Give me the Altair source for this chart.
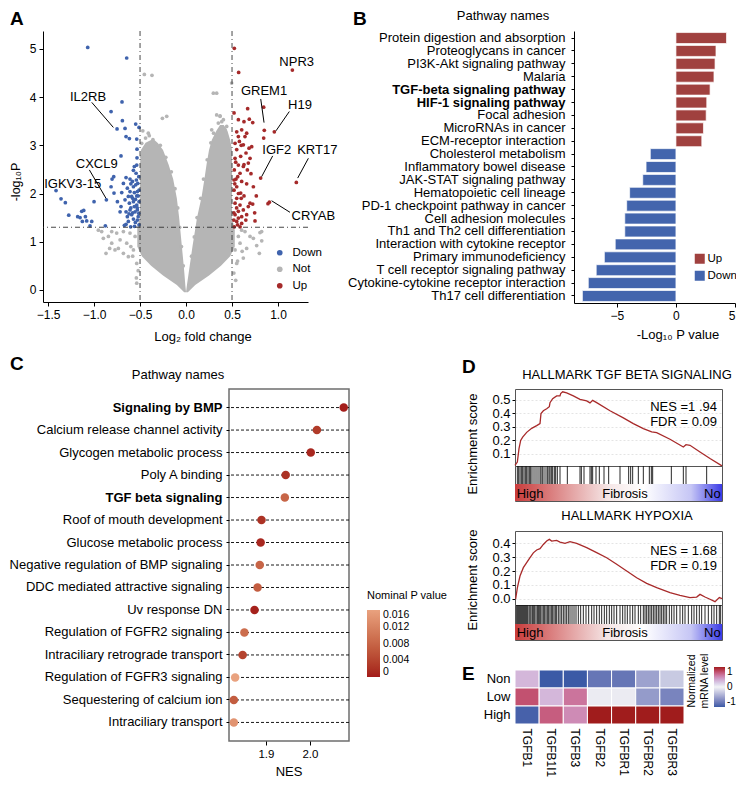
import altair as alt
import pandas as pd

FONT = "Liberation Sans"
ONE = pd.DataFrame({"k": [0]})

# ---------------- Panel A : volcano ----------------
down_x = [-1.069, -0.645, -0.696, -0.815, -0.692, -0.750, -0.663, -0.547, -0.511, -0.652, -0.616, -0.536,
          -0.533, -0.707, -0.533, -0.536, -0.786, -0.804, -0.652, -0.609, -0.572, -0.583, -0.547, -0.525,
          -0.572, -0.609, -0.562, -0.529, -0.511, -0.591, -0.536, -0.815, -0.783, -0.699, -0.866, -0.746,
          -0.663, -0.707, -0.616, -0.572, -0.536, -0.511, -0.609, -0.554, -0.514, -0.591, -0.638, -0.572,
          -0.529, -0.511, -0.670, -0.602, -0.551, -1.000, -1.413, -1.359, -1.312, -1.275, -1.178, -1.152,
          -1.134, -1.112, -1.094, -1.080, -1.044, -1.025, -1.127, -0.877, -0.717, -0.652, -0.627, -0.638,
          -0.681, -0.562, -0.514, -0.543, -0.580, -0.562, -0.627, -0.529, -0.652, -0.520, -0.550, -0.600,
          -0.580, -0.520, -0.560, -0.620, -0.540, -0.600, -0.530]
down_y = [5.03, 4.81, 3.90, 3.70, 3.51, 3.34, 3.35, 3.44, 3.37, 3.18, 3.14, 3.13,
          2.92, 2.78, 2.74, 2.59, 2.35, 2.30, 2.33, 2.30, 2.48, 2.25, 2.18, 2.21,
          2.14, 2.04, 2.02, 2.04, 2.07, 1.94, 1.95, 2.14, 2.01, 2.02, 1.87, 1.83,
          1.87, 1.73, 1.80, 1.83, 1.76, 1.83, 1.66, 1.62, 1.59, 1.56, 1.52, 1.47,
          1.45, 1.35, 1.34, 1.31, 1.40, 1.83, 2.06, 1.89, 1.81, 1.55, 1.52, 1.50,
          1.63, 1.65, 1.52, 1.43, 1.33, 1.42, 1.42, 1.33, 1.62, 1.62, 1.94, 2.11,
          2.21, 2.56, 2.35, 2.42, 1.90, 1.73, 1.42, 1.66, 1.36, 1.95, 1.88, 1.70,
          1.60, 1.52, 1.32, 1.58, 2.28, 2.20, 1.70]

up_x = [0.525, 0.572, 1.156, 0.844, 0.670, 0.569, 0.630, 0.688, 0.725, 0.851, 0.960, 0.844,
        0.551, 0.605, 0.659, 0.641, 0.580, 0.533, 0.623, 0.685, 0.551, 0.652, 0.594, 0.533,
        0.696, 0.569, 0.623, 0.667, 0.525, 0.587, 0.706, 0.811, 0.543, 0.605, 0.659, 0.551,
        0.522, 0.594, 0.630, 0.764, 0.551, 0.725, 0.677, 0.533, 0.587, 0.906, 0.891, 1.199,
        0.569, 0.623, 0.746, 0.533, 0.605, 0.659, 0.551, 0.750, 0.605, 0.525, 0.587, 0.569,
        0.696, 0.732, 0.677, 0.522, 0.562, 0.714, 0.569, 0.522, 0.520, 0.550, 0.600, 0.570,
        0.530, 0.630, 0.540, 0.600, 0.650, 0.520, 0.560]
up_y = [5.01, 4.51, 4.56, 3.79, 3.76, 3.53, 3.49, 3.54, 3.47, 3.31, 3.28, 3.15,
        3.28, 3.32, 3.25, 3.18, 3.08, 3.04, 3.01, 2.94, 2.91, 2.84, 2.77, 2.73,
        2.73, 2.59, 2.56, 2.49, 2.49, 2.42, 2.41, 2.32, 2.30, 2.25, 2.20, 2.14,
        2.07, 2.01, 1.95, 1.95, 1.90, 1.78, 1.73, 1.80, 1.76, 1.82, 1.79, 2.23,
        1.63, 1.66, 1.60, 1.56, 1.52, 1.56, 1.42, 1.43, 1.38, 1.31, 1.31, 1.49,
        1.80, 2.14, 2.63, 2.28, 2.35, 2.97, 3.18, 3.67, 1.60, 1.70, 1.90, 2.00,
        2.20, 2.60, 2.65, 3.00, 1.45, 1.45, 1.35]

not_x = [-0.453, -0.370, -0.210, -0.257, -0.319, -0.482, -0.482, -0.953, -0.917, -0.899, -0.844, -0.808,
         -0.772, -0.736, -0.717, -0.681, -0.645, -0.609, -0.754, -0.627, -0.572, -0.554, -0.681, -0.808,
         -0.536, -0.536, -0.870, -0.830, 0.297, 0.333, 0.496, 0.370, 0.388, 0.279, 0.605, 0.641,
         0.696, 0.804, 0.822, 0.797, 0.659, 0.587, 0.623, 0.551, 0.569, 0.533, 0.732, 0.768,
         0.823, 0.333, 0.370, 0.406, 0.442, 0.351, 0.424, -0.050, -0.070, -0.090, -0.120, -0.160,
         -0.220, -0.280, -0.030, 0.060, 0.090, 0.120, 0.160, 0.190, 0.230, 0.270, 0.300, -0.440,
         -0.400, -0.360, -0.470, -0.410, 0.520, 0.540, -0.520, -0.540, 0.560, -0.580, 0.610, -0.600]
not_y = [4.47, 4.45, 3.60, 3.56, 3.01, 3.04, 2.77, 1.24, 1.21, 1.07, 1.11, 0.97,
         0.83, 0.86, 1.04, 0.76, 0.97, 1.18, 1.18, 0.69, 0.83, 1.11, 1.21, 1.21,
         0.55, 0.14, 0.76, 0.86, 4.08, 4.08, 4.29, 3.60, 3.49, 3.32, 1.24, 1.21,
         1.11, 1.19, 1.21, 0.76, 0.86, 0.97, 0.66, 0.55, 1.11, 0.83, 1.07, 0.92,
         1.02, 3.63, 3.61, 3.53, 3.39, 3.46, 3.32, 0.90, 1.30, 1.70, 2.10, 2.45,
         2.75, 3.00, 0.50, 0.70, 1.10, 1.50, 1.90, 2.30, 2.70, 3.05, 3.25, 3.15,
         3.20, 3.12, 3.30, 3.25, 0.35, 0.20, 0.40, 0.25, 0.60, 0.70, 0.80, 0.90]

# dense grey V (outline)
vL_y = [-0.05, 0.1, 0.3, 0.5, 0.7, 0.9, 1.3, 1.5, 1.9, 2.3, 2.6, 2.9, 3.05, 3.12]
vL_outer = [-0.02, -0.10, -0.25, -0.38, -0.48, -0.53, -0.53, -0.50, -0.50, -0.50, -0.50, -0.49, -0.44, -0.37]
vL_inner = [0.0, -0.008, -0.016, -0.025, -0.035, -0.045, -0.065, -0.075, -0.10, -0.14, -0.19, -0.25, -0.31, -0.35]
vR_y = [-0.05, 0.1, 0.3, 0.5, 0.7, 0.9, 1.24, 1.5, 1.94, 2.3, 2.63, 2.9, 3.11, 3.3, 3.42]
vR_inner = [0.0, 0.01, 0.025, 0.04, 0.055, 0.07, 0.098, 0.12, 0.17, 0.20, 0.225, 0.25, 0.28, 0.33, 0.37]
vR_outer = [0.02, 0.10, 0.25, 0.38, 0.48, 0.53, 0.53, 0.50, 0.50, 0.50, 0.50, 0.50, 0.48, 0.45, 0.41]

gene_labels = ["IL2RB", "CXCL9", "IGKV3-15", "NPR3", "GREM1", "H19", "IGF2", "KRT17", "CRYAB"]
gene_lx = [-1.065, -0.971, -1.232, 1.203, 0.848, 1.239, 0.986, 1.427, 1.384]
gene_ly = [4.01, 2.61, 2.19, 4.72, 4.13, 3.84, 2.90, 2.90, 1.535]
lead_x1 = [-1.025, -1.051, 0.812, 1.123, 0.942, 1.330, 1.130]
lead_y1 = [3.89, 2.49, 3.96, 3.70, 2.78, 2.73, 1.61]
lead_x2 = [-0.790, -0.870, 0.848, 0.978, 0.822, 1.214, 0.930]
lead_y2 = [3.37, 1.90, 3.47, 3.30, 2.35, 2.32, 1.85]
cut_x = [-0.5, 0.5]
cut_y = [1.3]

# ---------------- Panel B : KEGG bars ----------------
b_names = ["Protein digestion and absorption", "Proteoglycans in cancer", "PI3K-Akt signaling pathway",
           "Malaria", "TGF-beta signaling pathway", "HIF-1 signaling pathway", "Focal adhesion",
           "MicroRNAs in cancer", "ECM-receptor interaction", "Cholesterol metabolism",
           "Inflammatory bowel disease", "JAK-STAT signaling pathway", "Hematopoietic cell lineage",
           "PD-1 checkpoint pathway in cancer", "Cell adhesion molecules", "Th1 and Th2 cell differentiation",
           "Interaction with cytokine receptor", "Primary immunodeficiency", "T cell receptor signaling pathway",
           "Cytokine-cytokine receptor interaction", "Th17 cell differentiation"]
b_vals = [4.28, 3.39, 3.31, 3.22, 2.89, 2.61, 2.56, 2.33, 2.19, -2.17, -2.53, -2.81, -3.92, -4.17,
          -4.33, -4.33, -5.14, -6.06, -6.75, -7.42, -7.92]
b_dir = ["Up"] * 9 + ["Down"] * 12
b_bold = ["TGF-beta signaling pathway", "HIF-1 signaling pathway"]

# ---------------- Panel C : GSEA dot plot ----------------
c_terms = ["Signaling by BMP", "Calcium release channel activity", "Glycogen metabolic process",
           "Poly A binding", "TGF beta signaling", "Roof of mouth development", "Glucose metabolic process",
           "Negative regulation of BMP signaling", "DDC mediated attractive signaling", "Uv response DN",
           "Regulation of FGFR2 signaling", "Intraciliary retrograde transport", "Regulation of FGFR3 signaling",
           "Sequestering of calcium ion", "Intraciliary transport"]
c_nes = [2.077, 2.016, 2.002, 1.945, 1.943, 1.890, 1.888, 1.886, 1.881, 1.874, 1.851, 1.847, 1.830, 1.827, 1.827]
c_pval = [0.0003, 0.003, 0.001, 0.002, 0.008, 0.002, 0.001, 0.008, 0.007, 0.0005, 0.009, 0.004, 0.016, 0.007, 0.014]
c_bold = ["Signaling by BMP", "TGF beta signaling"]

# ---------------- Panel D : enrichment curves ----------------
es1_rank = [0, 7, 12, 17, 23, 35, 50, 65, 75, 78, 85, 95, 103, 105, 113, 125, 135, 137, 143, 155, 175, 195,
            215, 225, 233, 245, 285, 325, 355, 385, 410, 425, 465, 505, 513, 525, 555, 585, 621]
es1_val = [0.016, 0.04, 0.14, 0.20, 0.225, 0.26, 0.29, 0.31, 0.325, 0.40, 0.42, 0.435, 0.45, 0.48, 0.51, 0.53,
           0.53, 0.547, 0.56, 0.552, 0.53, 0.505, 0.493, 0.478, 0.497, 0.48, 0.42, 0.367, 0.325, 0.288, 0.263,
           0.258, 0.209, 0.152, 0.169, 0.164, 0.115, 0.066, 0.012]
hits1 = [7, 11, 15, 19, 23, 27, 31, 35, 39, 43, 47, 51, 57, 63, 69, 75, 78, 82, 87, 93, 98, 102, 105, 109, 113,
         118, 122, 127, 135, 157, 195, 199, 207, 225, 229, 233, 243, 253, 267, 281, 315, 341, 347, 353, 370,
         385, 403, 409, 413, 469, 505, 513, 575]
es2_rank = [2, 7, 15, 25, 35, 45, 55, 65, 75, 85, 95, 103, 110, 125, 135, 150, 165, 185, 215, 245, 275, 305,
            335, 365, 395, 425, 465, 495, 525, 545, 555, 570, 585, 600, 613, 621]
es2_val = [0.0, 0.08, 0.164, 0.224, 0.26, 0.295, 0.33, 0.35, 0.36, 0.39, 0.414, 0.426, 0.414, 0.419, 0.407,
           0.398, 0.41, 0.398, 0.367, 0.331, 0.295, 0.248, 0.20, 0.152, 0.112, 0.081, 0.045, 0.026, 0.01,
           0.014, 0.033, 0.014, -0.002, -0.019, 0.01, 0.002]
hits2 = [5, 8, 11, 14, 17, 20, 23, 26, 29, 32, 35, 38, 42, 45, 48, 52, 55, 59, 63, 67, 70, 73, 77, 81, 85, 89,
         93, 97, 101, 105, 109, 113, 117, 121, 125, 130, 135, 140, 145, 150, 155, 160, 165, 171, 177, 183, 190,
         197, 205, 213, 221, 230, 237, 245, 253, 260, 268, 275, 283, 290, 297, 305, 315, 323, 330, 337, 345,
         353, 360, 370, 377, 385, 390, 395, 400, 405, 410, 415, 420, 425, 430, 435, 440, 445, 450, 455, 463,
         470, 477, 485, 495, 503, 510, 520, 530, 537, 545, 553, 560, 570, 580, 590, 597, 605, 613, 617]

# ---------------- Panel E : heatmap ----------------
e_genes = ["TGFB1", "TGFB1I1", "TGFB3", "TGFB2", "TGFBR1", "TGFBR2", "TGFBR3"]
e_groups = ["Non", "Low", "High"]
e_non = [0.30, -1.0, -1.0, -0.80, -0.80, -0.50, -0.25]
e_low = [0.75, 0.30, 0.60, -0.05, -0.05, -0.55, -0.70]
e_high = [-0.95, 0.70, 0.50, 1.0, 1.0, 1.0, 1.0]

# ---------------- colours ----------------
BLUE, RED, GRAY = "#3f63ad", "#a52a2a", "#b5b5b5"
BRED, BBLUE = "#a0413f", "#4365ad"


def txt(t, x, y, size=13, weight="normal", align="center", baseline="middle", angle=None):
    kw = dict(text=t, fontSize=size, fontWeight=weight, align=align, baseline=baseline, color="black", font=FONT)
    if angle is not None:
        kw["angle"] = angle
    return alt.Chart(ONE).mark_text(**kw).encode(x=alt.value(x), y=alt.value(y))


def anchor(x, y):
    # invisible point that fixes the outer bounds of a row
    return alt.Chart(ONE).mark_point(size=1, opacity=0, filled=True, strokeWidth=0).encode(
        x=alt.value(x), y=alt.value(y))


def spacer(w, h, extra=None):
    base = alt.Chart(ONE).mark_point(opacity=0, size=1, filled=True, strokeWidth=0).encode(
        x=alt.value(0), y=alt.value(0))
    if extra is not None:
        base = alt.layer(base, *extra)
    return base.properties(width=w, height=h)


# ================= Panel A =================
AW, AH = 265, 271
xsA = alt.Scale(domain=[-1.555, 1.326], nice=False, zero=False)
ysA = alt.Scale(domain=[-0.25, 5.37], nice=False, zero=False)
axXA = alt.Axis(values=[-1.5, -1.0, -0.5, 0.0, 0.5, 1.0], format=".1f", title=None, tickSize=4,
                labelPadding=3, labelFontSize=12, labelFlush=False)
axYA = alt.Axis(values=[0, 1, 2, 3, 4, 5], title=None, tickSize=4, labelPadding=3, labelFontSize=12)


def XA(f):
    return alt.X(f, type="quantitative", scale=xsA, axis=axXA)


def YA(f):
    return alt.Y(f, type="quantitative", scale=ysA, axis=axYA)


vL = pd.DataFrame({"y": vL_y, "xo": vL_outer, "xi": vL_inner})
vR = pd.DataFrame({"y": vR_y, "xo": vR_outer, "xi": vR_inner})
areaL = alt.Chart(vL).mark_area(orient="horizontal", color=GRAY).encode(y=YA("y"), x=XA("xo"), x2="xi")
areaR = alt.Chart(vR).mark_area(orient="horizontal", color=GRAY).encode(y=YA("y"), x=XA("xi"), x2="xo")

pts = pd.concat([
    pd.DataFrame({"x": not_x, "y": not_y, "g": "Not"}),
    pd.DataFrame({"x": down_x, "y": down_y, "g": "Down"}),
    pd.DataFrame({"x": up_x, "y": up_y, "g": "Up"}),
], ignore_index=True)
ptsA = alt.Chart(pts).mark_circle(size=14, opacity=1).encode(
    x=XA("x"), y=YA("y"),
    color=alt.Color("g:N", scale=alt.Scale(domain=["Down", "Not", "Up"], range=[BLUE, GRAY, RED]),
                    legend=alt.Legend(title=None, orient="none", legendX=231, legendY=216, symbolSize=32,
                                      symbolType="circle", labelFontSize=11.5, rowPadding=3.5, padding=0,
                                      labelOffset=7)))
vlines = alt.Chart(pd.DataFrame({"v": cut_x})).mark_rule(color="#333", strokeWidth=0.9, strokeDash=[5, 3, 1, 3]).encode(x=XA("v"))
hline = alt.Chart(pd.DataFrame({"h": cut_y})).mark_rule(color="#333", strokeWidth=0.9, strokeDash=[5, 3, 1, 3]).encode(y=YA("h"))
leads = alt.Chart(pd.DataFrame({"x1": lead_x1, "y1": lead_y1, "x2": lead_x2, "y2": lead_y2})).mark_rule(
    color="black", strokeWidth=1).encode(x=XA("x1"), y=YA("y1"), x2="x2", y2="y2")
glab = alt.Chart(pd.DataFrame({"x": gene_lx, "y": gene_ly, "t": gene_labels})).mark_text(
    fontSize=13, color="black", font=FONT).encode(x=XA("x"), y=YA("y"), text="t:N")

panelA = alt.layer(
    areaL, areaR, ptsA, vlines, hline, leads, glab,
    txt("Log₂ fold change", 160, 306),
    txt("-log₁₀P", -27, 151, size=12.5, angle=270),
    txt("A", -33, -21, size=19, weight="bold", align="left", baseline="top"),
    anchor(-40, -28), anchor(-40, 318),
).properties(width=AW, height=AH)

# ================= Panel B =================
BW, BH = 161, 272
bdf = pd.DataFrame({"p": b_names, "v": b_vals, "d": b_dir})
bold_test = " || ".join([f"datum.value == '{n}'" for n in b_bold])
barsB = alt.Chart(bdf).mark_bar(stroke="white", strokeWidth=0.7).encode(
    y=alt.Y("p:N", sort=b_names, scale=alt.Scale(paddingInner=0.15, paddingOuter=0.12),
            axis=alt.Axis(title=None, labelFontSize=13, tickSize=3, labelPadding=6, labelLimit=400,
                          labelFontWeight=alt.condition(bold_test, alt.value("bold"), alt.value("normal")))),
    x=alt.X("v:Q", scale=alt.Scale(domain=[-8.63, 5.0], nice=False),
            axis=alt.Axis(values=[-5, 0, 5], title=None, tickSize=4, labelPadding=3, labelFontSize=12)),
    color=alt.Color("d:N", scale=alt.Scale(domain=["Up", "Down"], range=[BRED, BBLUE]),
                    legend=alt.Legend(title=None, orient="none", legendX=120, legendY=222, symbolType="square",
                                      symbolSize=100, labelFontSize=11.5, rowPadding=4, padding=0,
                                      labelOffset=2, symbolStrokeWidth=0)))
panelB = alt.layer(
    barsB,
    txt("Pathway names", -71, -15),
    txt("-Log₁₀ P value", 104, 304),
    txt("B", -221, -21, size=19, weight="bold", align="left", baseline="top"),
).properties(width=BW, height=BH)

# ================= Panel C =================
CW, CH = 120, 352
cdf = pd.DataFrame({"t": c_terms, "n": c_nes, "p": c_pval})
cbold = " || ".join([f"datum.value == '{n}'" for n in c_bold])
ysC = alt.Scale(domain=c_terms, padding=0.65)
axYC = alt.Axis(title=None, labelFontSize=13, tickSize=3, labelPadding=4, labelLimit=400, domain=False,
                labelFontWeight=alt.condition(cbold, alt.value("bold"), alt.value("normal")))
xsC = alt.Scale(domain=[1.816, 2.089], nice=False, zero=False)
axXC = alt.Axis(values=[1.9, 2.0], format=".1f", title=None, tickSize=4, labelPadding=3, labelFontSize=11.5, domain=False)
rulesC = alt.Chart(cdf).mark_rule(color="black", strokeWidth=0.9, strokeDash=[3, 2]).encode(
    y=alt.Y("t:N", sort=c_terms, scale=ysC, axis=axYC))
dotsC = alt.Chart(cdf).mark_circle(size=72, opacity=1).encode(
    y=alt.Y("t:N", sort=c_terms, scale=ysC, axis=axYC),
    x=alt.X("n:Q", scale=xsC, axis=axXC),
    color=alt.Color("p:Q", scale=alt.Scale(domain=[0, 0.016], range=["#a31a1a", "#e9a27f"]),
                    legend=alt.Legend(title="Nominal P value", orient="none", legendX=138, legendY=201,
                                      direction="vertical", gradientLength=67, gradientThickness=13,
                                      titleFontSize=11, titleFontWeight="normal", labelFontSize=10.5,
                                      values=[0, 0.004, 0.008, 0.012, 0.016], titlePadding=9, labelOffset=3,
                                      labelExpr="datum.value == 0 ? '0' : format(datum.value, '.3f')")))
panelC = alt.layer(
    rulesC, dotsC,
    txt("Pathway names", -51, -14),
    txt("NES", 60, 383),
    txt("C", -219, -34, size=19, weight="bold", align="left", baseline="top"),
).properties(width=CW, height=CH, view=alt.ViewBackground(stroke="#6e6e6e", strokeWidth=1.5))

# ================= Panel D =================
DW = 207
rankS = alt.Scale(domain=[0, 621], nice=False, zero=False)
BOX = alt.ViewBackground(stroke="#555", strokeWidth=1)


def es_panel(rank, val, dom, ticks, h, title, nes, fdr, nes_y, tit_y, es_y, letter):
    d = pd.DataFrame({"r": rank, "e": val})
    line = alt.Chart(d).mark_line(color="#a82a2a", strokeWidth=1.3).encode(
        x=alt.X("r:Q", scale=rankS, axis=None),
        y=alt.Y("e:Q", scale=alt.Scale(domain=dom, nice=False, zero=False),
                axis=alt.Axis(values=ticks, format=".1f", title=None, grid=True, gridColor="#e4e4e4",
                              gridDash=[2, 2], domain=False, tickSize=3, labelPadding=2, labelFontSize=13)))
    layers = [line,
              txt(nes, 202, nes_y, align="right"),
              txt(fdr, 202, nes_y + 15, align="right"),
              txt(title, 112, tit_y),
              txt("Enrichment score", -42, es_y, angle=270)]
    if letter:
        layers.append(txt(letter, -53, -31, size=19, weight="bold", align="left", baseline="top"))
    return alt.layer(*layers).properties(width=DW, height=h, view=BOX)


def hits_panel(hits, h):
    return alt.Chart(pd.DataFrame({"r": hits})).mark_rule(color="#111", strokeWidth=0.9).encode(
        x=alt.X("r:Q", scale=rankS, axis=None)).properties(width=DW, height=h, view=BOX)


def grad_panel(h):
    g = alt.Gradient(gradient="linear", x1=0, x2=1, y1=0, y2=0,
                     stops=[alt.GradientStop(color="#c93c3c", offset=0),
                            alt.GradientStop(color="#f5e6e6", offset=0.45),
                            alt.GradientStop(color="#ffffff", offset=0.62),
                            alt.GradientStop(color="#c6c6f5", offset=0.85),
                            alt.GradientStop(color="#3c3ce6", offset=1)])
    rect = alt.Chart(pd.DataFrame({"a": [0], "b": [621]})).mark_rect(fill=g).encode(
        x=alt.X("a:Q", scale=rankS, axis=None), x2="b")

    def t(s, r, al):
        return alt.Chart(pd.DataFrame({"r": [r]})).mark_text(text=s, fontSize=13, align=al, color="black",
                                                             font=FONT).encode(
            x=alt.X("r:Q", scale=rankS, axis=None), y=alt.value(h / 2 + 1))
    return alt.layer(rect, t("High", 5, "left"), t("Fibrosis", 330, "center"), t("No", 617, "right")).properties(
        width=DW, height=h, view=BOX)


es1 = es_panel(es1_rank, es1_val, [0.011, 0.581], [0.1, 0.2, 0.3, 0.4, 0.5], 77, "HALLMARK TGF BETA SIGNALING",
               "NES =1 .94", "FDR = 0.09", 18, -14, 55, "D")
es2 = es_panel(es2_rank, es2_val, [-0.043, 0.486], [0.0, 0.1, 0.2, 0.3, 0.4], 74, "HALLMARK HYPOXIA",
               "NES = 1.68", "FDR = 0.19", 20, -15, 49, None)

# ================= Panel E =================
EW, EH = 169, 54
edf = pd.DataFrame({
    "gene": e_genes * 3,
    "grp": ["Non"] * 7 + ["Low"] * 7 + ["High"] * 7,
    "v": e_non + e_low + e_high,
})
heat = alt.Chart(edf).mark_rect(stroke="white", strokeWidth=1).encode(
    x=alt.X("gene:N", sort=e_genes, axis=alt.Axis(title=None, labelAngle=90, ticks=False, domain=False,
                                                   labelFontSize=12, labelPadding=4)),
    y=alt.Y("grp:N", sort=e_groups, axis=alt.Axis(title=None, ticks=False, domain=False, labelFontSize=13,
                                                   labelPadding=5)),
    color=alt.Color("v:Q", scale=alt.Scale(domain=[-1, 0, 1], range=["#3b5aa6", "#f3f3f6", "#a01c1c"]),
                    legend=alt.Legend(title=["Normalized", "mRNA level"], titleOrient="left", orient="none",
                                      legendX=172, legendY=-3, direction="vertical", gradientLength=40,
                                      gradientThickness=11, titleFontSize=10.5, titleFontWeight="normal",
                                      labelFontSize=10, values=[-1, 0, 1], titlePadding=4, labelOffset=2,
                                      titleAnchor="middle",
                                      labelExpr="datum.value < 0 ? '-1' : datum.label")))
panelE = alt.layer(
    heat,
    txt("E", -53, -5, size=19, weight="bold", align="left", baseline="top"),
    anchor(230, 121),
).properties(width=EW, height=EH)

# ================= layout =================
colD = alt.vconcat(es1, hits_panel(hits1, 18), grad_panel(17), spacer(1, 30),
                   es2, hits_panel(hits2, 19), grad_panel(16), spacer(1, 30), panelE,
                   spacing=0, bounds="flush").resolve_scale(color="independent")
row1 = alt.hconcat(panelA, panelB, spacing=266, bounds="flush").resolve_scale(color="independent")
row2 = alt.hconcat(spacer(186, 10, [anchor(-40, -36)]), panelC, spacer(166, 10), colD,
                   spacing=0, bounds="flush").resolve_scale(color="independent")

chart = alt.vconcat(row1, row2, spacing=2, bounds="full").resolve_scale(color="independent").properties(
    padding={"left": -6, "top": -6, "right": -10, "bottom": -14}
).configure(font=FONT).configure_view(stroke=None).configure_axis(
    domainColor="black", tickColor="black", labelColor="black", titleColor="black", grid=False,
    labelFont=FONT, titleFont=FONT
).configure_legend(labelFont=FONT, titleFont=FONT, labelColor="black", titleColor="black")

chart.save("out.html", embed_options={"renderer": "svg", "actions": False})
